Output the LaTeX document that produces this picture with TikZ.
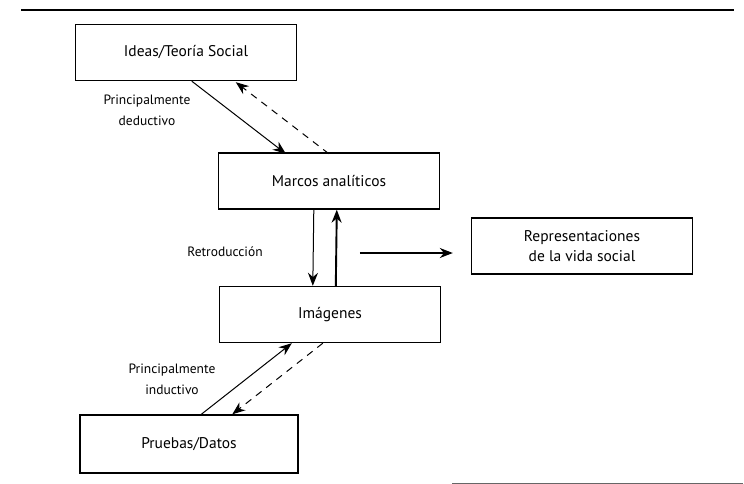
\documentclass[tikz,border=0pt]{standalone}
\usepackage{fontspec}
\setmainfont{PT Sans}
\usetikzlibrary{arrows.meta,calc}
\begin{document}
\begin{tikzpicture}[x=1pt,y=-1pt,
  box/.style={draw,line width=1.4pt,minimum width=221pt,minimum height=56pt,inner sep=0pt,font=\fontsize{15.5}{20}\selectfont,align=center},
  lab/.style={font=\fontsize{13.5}{21}\selectfont,align=center,inner sep=0pt},
  arr/.style={line width=1pt,-{Stealth[length=13pt,width=10pt]}},
  darr/.style={arr,dash pattern=on 7pt off 6pt}]
\useasboundingbox (0,0) rectangle (744,484);
\draw[line width=1.6pt] (21,10) -- (734,10);
\draw[line width=0.6pt,black!60] (452,483) -- (743,483);
\node[box] (ideas) at (186,52.5) {Ideas/Teoría Social};
\node[box] (marcos) at (329,181) {Marcos analíticos};
\node[box] (rep) at (582,246) {Representaciones\\de la vida social};
\node[box] (imag) at (330,314.5) {Imágenes};
\node[box,minimum width=218pt,minimum height=58pt] (pruebas) at (189,444) {Pruebas/Datos};
\node[lab] (ded) at (147,110) {Principalmente\\deductivo};
\node[lab] (ind) at (172,379) {Principalmente\\inductivo};
\node[lab] (retro) at (225,252) {Retroducción};
\draw[arr] ($(ideas.south west)+(117,0)$) -- ($(marcos.south west)+(68,-56)$);
\draw[darr] ($(marcos.south west)+(111,-56)$) -- ($(ideas.south west)+(161,1)$);
\draw[arr] ($(marcos.south west)+(96,0)$) -- ($(imag.north west)+(94,0)$);
\draw[arr,line width=1.9pt] ($(imag.north west)+(117,0)$) -- ($(marcos.south west)+(119,0)$);
\draw[arr,line width=1.5pt] ($(rep.west)+(-111,7)$) coordinate (rs) -- ($(rep.west)+(-18,7)$);
\draw[arr] ($(pruebas.north west)+(122,0)$) -- ($(imag.south west)+(73,0)$);
\draw[darr] ($(imag.south west)+(104,0)$) -- ($(pruebas.north west)+(153,0)$);
\end{tikzpicture}
\end{document}
